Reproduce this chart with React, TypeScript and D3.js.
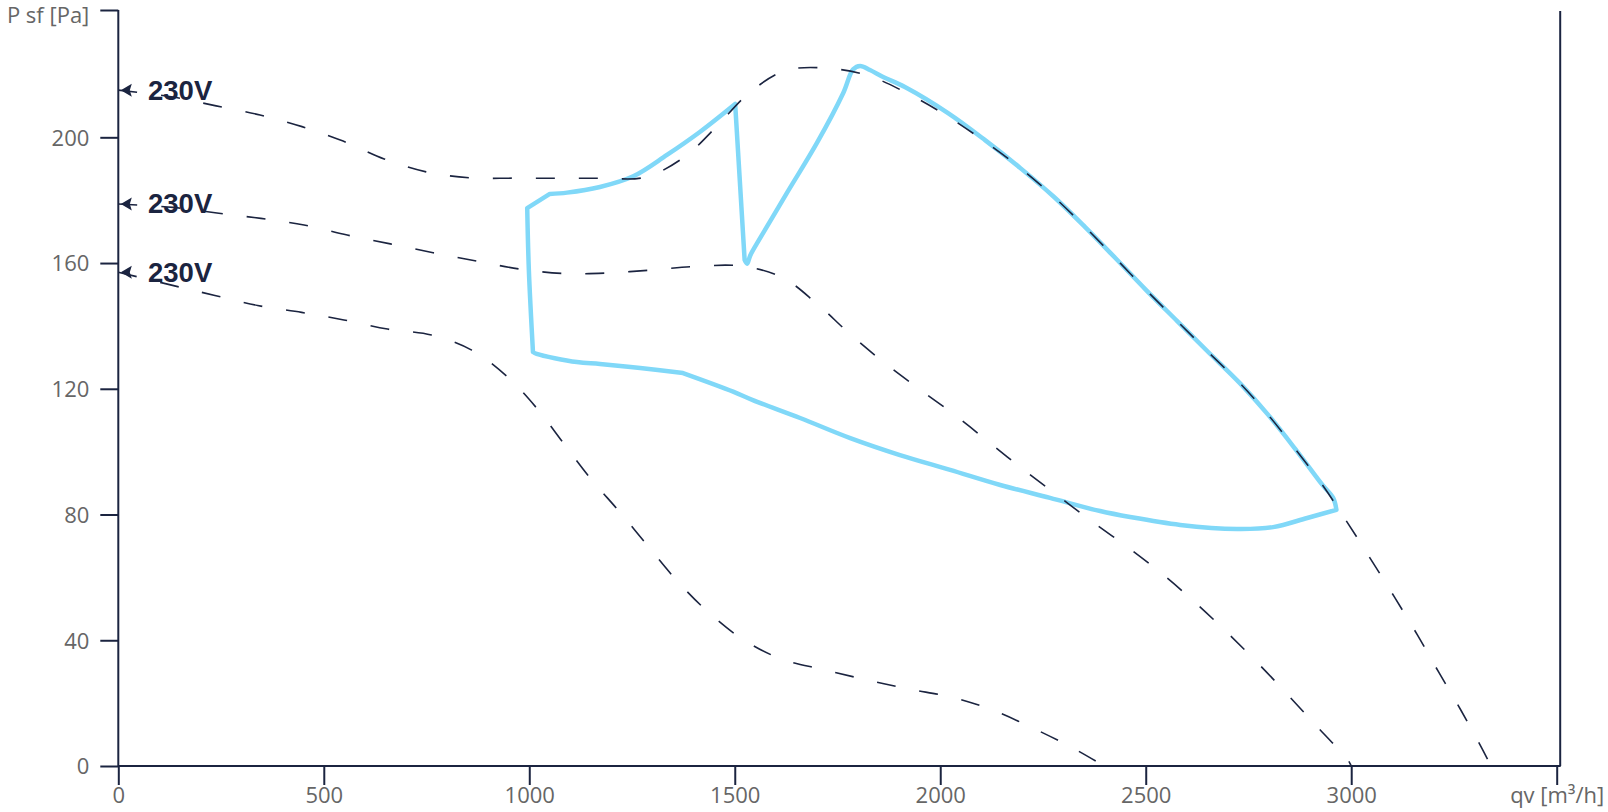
import React, { useEffect, useRef } from "react";
import * as d3 from "d3";

const W = 1608;
const H = 812;

const xTicks = [0, 500, 1000, 1500, 2000, 2500, 3000];
const yTicks = [0, 40, 80, 120, 160, 200];
const xTitle = "qv [m³/h]";
const yTitle = "P sf [Pa]";
const xMax = 3500;
const yMax = 240.5;

// Speed curves (dashed)
const curveAQ = [0, 133, 238, 345, 447, 547, 647, 749, 856, 963, 1070, 1175, 1282, 1377, 1455, 1530, 1620, 1725, 1827, 1927, 2020, 2110, 2195, 2277, 2352, 2426, 2501, 2576, 2652, 2729, 2798, 2866, 2930, 2990, 3047, 3105, 3161, 3214, 3268, 3319, 3340];
const curveAP = [215.0, 212.8, 210.0, 207.1, 203.4, 198.8, 193.1, 189.0, 187.1, 187.0, 187.0, 187.0, 187.3, 193.7, 203.3, 213.5, 221.1, 222.0, 219.5, 213.5, 206.5, 198.5, 190.2, 181.0, 171.5, 161.6, 151.4, 141.6, 131.7, 121.8, 111.7, 100.5, 89.4, 77.6, 65.9, 53.8, 41.7, 29.6, 17.5, 5.4, 0];

const curveBQ = [0, 133, 240, 347, 452, 557, 662, 766, 873, 977, 1082, 1184, 1299, 1404, 1511, 1613, 1698, 1778, 1859, 1946, 2032, 2117, 2199, 2284, 2369, 2457, 2542, 2623, 2700, 2776, 2851, 2922, 2991, 3000];
const curveBP = [178.8, 177.7, 175.9, 174.2, 172.1, 168.9, 166.1, 163.3, 160.6, 158.1, 156.7, 156.8, 157.8, 158.9, 159.1, 155.6, 147.3, 137.7, 128.8, 120.2, 112.0, 103.2, 94.6, 86.2, 77.8, 69.5, 60.9, 51.7, 42.2, 32.3, 21.9, 11.8, 2.1, 0];

const curveCQ = [0, 132, 235, 339, 446, 549, 655, 762, 860, 946, 1019, 1085, 1149, 1220, 1288, 1357, 1431, 1515, 1610, 1714, 1818, 1922, 2028, 2129, 2228, 2323, 2399];
const curveCP = [157.1, 152.9, 149.7, 146.5, 144.3, 141.9, 139.0, 137.1, 132.3, 123.9, 113.7, 102.4, 91.5, 80.8, 70.1, 59.3, 49.5, 40.7, 34.2, 30.7, 27.5, 24.5, 21.9, 17.7, 11.9, 5.7, 0];

const curveLabels = ["230V", "230V", "230V"];

// Working range (solid blue outline), split into smooth pieces between corners
const rangeSegQ = [
  [995, 1050],
  [1050, 1092, 1172, 1253, 1335, 1415, 1501],
  [1501, 1524],
  [1524, 1530, 1538, 1562, 1627, 1700, 1764, 1788, 1805, 1829, 1861, 1914, 2019, 2109, 2195, 2277, 2352, 2426, 2501, 2576, 2652, 2729, 2798, 2866, 2930, 2956, 2964],
  [2964, 2893, 2810, 2722, 2584, 2462, 2389, 2267, 2146, 2024, 1902, 1781, 1659, 1544, 1496, 1374],
  [1374, 1270, 1172, 1116, 1018, 1009],
  [1009, 999, 995],
];
const rangeSegP = [
  [177.5, 182.0],
  [182.0, 182.4, 184.2, 187.6, 194.4, 201.7, 210.6],
  [210.6, 161.0],
  [161.0, 159.8, 162.5, 168.0, 182.3, 198.2, 214.1, 221.6, 222.7, 221.4, 219.2, 216.0, 207.7, 199.1, 190.2, 181.0, 171.5, 161.6, 151.4, 141.6, 131.7, 121.8, 111.7, 100.5, 89.4, 85.3, 81.5],
  [81.5, 78.9, 76.0, 75.4, 76.7, 79.2, 81.1, 85.3, 89.4, 94.2, 98.9, 104.3, 110.7, 116.4, 119.1, 125.0],
  [125.0, 126.6, 127.9, 128.5, 131.1, 131.7],
  [131.7, 157.8, 177.5],
];

const AXIS = "#1b2440";
const LABEL = "#666666";
const BLUE = "#80d8f8";
const TICK_FONT = "'Open Sans', 'Noto Sans', sans-serif";

export default function App() {
  const ref = useRef<SVGSVGElement>(null);

  useEffect(() => {
    const svg = d3.select(ref.current);
    svg.selectAll("*").remove();

    const x = d3.scaleLinear().domain([0, xMax]).range([118.3, 1556.7]);
    const y = d3.scaleLinear().domain([0, yMax]).range([766, 10]);

    const zip = (q: number[], p: number[]) => q.map((v, i) => [v, p[i]] as [number, number]);

    // Axes
    const yAxis = d3
      .axisLeft(y)
      .tickValues([...yTicks, yMax])
      .tickFormat((d) => (d === yMax ? yTitle : String(d)))
      .tickSize(18)
      .tickSizeOuter(0)
      .tickPadding(11);
    const gy = svg.append("g").attr("transform", `translate(${x(0)},0)`).call(yAxis as any);
    gy.select(".domain").remove();
    gy.selectAll("line").attr("stroke", AXIS).attr("stroke-width", 2);
    gy.selectAll("text")
      .attr("fill", LABEL)
      .attr("font-family", TICK_FONT)
      .attr("font-size", 22)
      .attr("dy", "0.36em");
    gy.selectAll<SVGTextElement, number>("text")
      .filter((d) => d === yMax)
      .attr("dy", null)
      .attr("y", 22 - y(yMax));

    const xAxis = d3
      .axisBottom(x)
      .tickValues([...xTicks, xMax])
      .tickFormat((d) => (d === xMax ? xTitle : String(d)))
      .tickSize(19)
      .tickSizeOuter(0)
      .tickPadding(2.4);
    const gx = svg.append("g").attr("transform", `translate(0,${y(0)})`).call(xAxis as any);
    gx.select(".domain").remove();
    gx.selectAll("line").attr("stroke", AXIS).attr("stroke-width", 2);
    gx.selectAll("text")
      .attr("fill", LABEL)
      .attr("font-family", TICK_FONT)
      .attr("font-size", 22);

    // axis lines
    svg.append("line")
      .attr("x1", x(0)).attr("x2", x(0))
      .attr("y1", y(yMax)).attr("y2", y(0))
      .attr("stroke", AXIS).attr("stroke-width", 2);
    svg.append("line")
      .attr("x1", x(0)).attr("x2", x(xMax) + 4)
      .attr("y1", y(0)).attr("y2", y(0))
      .attr("stroke", AXIS).attr("stroke-width", 2);
    svg.append("line")
      .attr("x1", x(xMax) + 3.5).attr("x2", x(xMax) + 3.5)
      .attr("y1", y(yMax) + 1).attr("y2", y(0))
      .attr("stroke", AXIS).attr("stroke-width", 2);

    const line = d3
      .line<[number, number]>()
      .x((d) => x(d[0]))
      .y((d) => y(d[1]))
      .curve(d3.curveCatmullRom.alpha(0.5));

    // working range outline: join smooth segments into one path
    let d = "";
    rangeSegQ.forEach((q, i) => {
      const seg = line(zip(q, rangeSegP[i])) || "";
      d += i === 0 ? seg : "L" + seg.slice(1);
    });
    svg.append("path")
      .attr("d", d + "Z")
      .attr("fill", "none")
      .attr("stroke", BLUE)
      .attr("stroke-width", 4.5)
      .attr("stroke-linejoin", "round")
      .attr("stroke-linecap", "round");

    // dashed curves (drawn over the blue outline)
    const curves = [zip(curveAQ, curveAP), zip(curveBQ, curveBP), zip(curveCQ, curveCP)];
    curves.forEach((c) => {
      svg.append("path")
        .attr("d", line(c))
        .attr("fill", "none")
        .attr("stroke", AXIS)
        .attr("stroke-width", 1.6)
        .attr("stroke-dasharray", "19 24");
    });

    // labels with arrows
    curves.forEach((c, i) => {
      const y0 = y(c[0][1]);
      const tx = x(0) + 2.5;
      svg.append("path")
        .attr("d", `M${tx},${y0} L${tx + 11},${y0 - 6.5} L${tx + 9},${y0} L${tx + 11},${y0 + 6.5} Z`)
        .attr("fill", AXIS);
      svg.append("text")
        .attr("x", 148)
        .attr("y", y0 + 9.5)
        .attr("fill", AXIS)
        .attr("font-family", "'Liberation Sans', Arial, sans-serif")
        .attr("font-weight", "bold")
        .attr("font-size", 27.5)
        .text(curveLabels[i]);
    });
  }, []);

  return (
    <svg
      ref={ref}
      width={W}
      height={H}
      style={{ position: "absolute", left: 0, top: 0, background: "#fff" }}
    />
  );
}
